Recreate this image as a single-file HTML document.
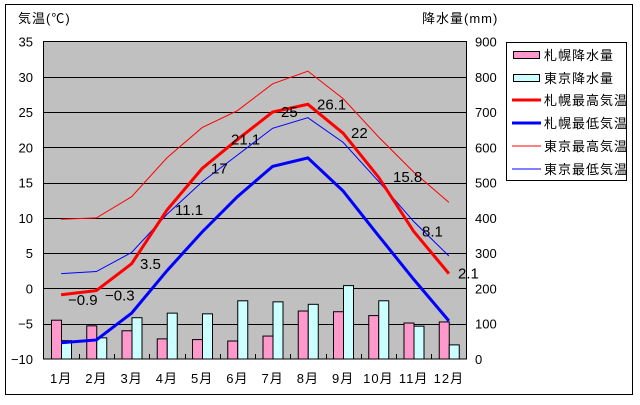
<!DOCTYPE html>
<html><head><meta charset="utf-8"><style>
body{margin:0;background:#fff;}
svg text{font-family:"Liberation Sans","Noto Sans CJK JP",sans-serif;}
</style></head><body>
<svg width="640" height="400" xmlns="http://www.w3.org/2000/svg">
<rect x="5.5" y="4.5" width="627" height="390" fill="#fff" stroke="#000"/>
<rect x="43.5" y="41.5" width="423" height="317.5" fill="#c0c0c0" stroke="#000"/>
<g id="g" stroke="#000" stroke-width="1"></g>
<g id="bars"></g>
<g id="lines" fill="none"></g>
<g id="lab" font-size="15" fill="#000"></g>
<g font-size="13" fill="#000" letter-spacing="1">
<text x="18" y="23">気温(℃)</text>
<text x="422" y="23">降水量(mm)</text>
</g>
<g id="ax" font-size="13" fill="#000"></g>
<rect x="506.5" y="42.5" width="120" height="138" fill="#fff" stroke="#000"/>
<g font-size="13" fill="#000" letter-spacing="1">
<rect x="513.5" y="51.5" width="26" height="7" fill="#ff99cc" stroke="#000"/><text x="544" y="60">札幌降水量</text>
<rect x="513.5" y="74.5" width="26" height="7" fill="#ccffff" stroke="#000"/><text x="544" y="83">東京降水量</text>
<line x1="512" y1="100" x2="541" y2="100" stroke="#f00" stroke-width="3"/><text x="544" y="105">札幌最高気温</text>
<line x1="512" y1="123" x2="541" y2="123" stroke="#00f" stroke-width="3"/><text x="544" y="128">札幌最低気温</text>
<line x1="512" y1="146" x2="541" y2="146" stroke="#f00" stroke-width="1"/><text x="544" y="151">東京最高気温</text>
<line x1="512" y1="169" x2="541" y2="169" stroke="#00f" stroke-width="1"/><text x="544" y="174">東京最低気温</text>
</g>
</svg>
<script>
var L=43.5,T=41.5,B=359,W=423,cw=W/12;
function yt(v){return T+(35-v)*(B-T)/45;}
function yp(v){return B-v*(B-T)/900;}
function cx(i){return L+cw*(i+0.5);}
var ns="http://www.w3.org/2000/svg";
function el(p,t,a,txt){var e=document.createElementNS(ns,t);for(var k in a)e.setAttribute(k,a[k]);if(txt!=null)e.textContent=txt;document.getElementById(p).appendChild(e);}
for(var v=-5;v<35;v+=5){var y=Math.round(yt(v))+0.5;el('g','line',{x1:L,x2:L+W,y1:y,y2:y});}
for(var i=1;i<12;i++){var x=Math.round(L+cw*i)+0.5;el('g','line',{x1:x,x2:x,y1:B-5,y2:B});}
var sp=[110,94,80,57,55,51,65,136,134,123,102,105];
var tp=[52,60,117,130,128,165,162,155,208,165,93,40];
for(var i=0;i<12;i++){var x0=L+cw*i+8;
el('bars','rect',{x:x0,y:yp(sp[i]),width:10,height:B-yp(sp[i]),fill:'#ff99cc',stroke:'#000'});
el('bars','rect',{x:x0+10,y:yp(tp[i]),width:10,height:B-yp(tp[i]),fill:'#ccffff',stroke:'#000'});}
function line(d,c,w){var p=d.map(function(v,i){return cx(i)+','+yt(v)}).join(' ');el('lines','polyline',{points:p,stroke:c,'stroke-width':w});}
line([9.8,10,13,18.5,22.8,25.2,29,30.8,26.9,21.5,16.5,12.2],'#f00',1);
line([2.1,2.4,5.1,10.5,15.1,18.9,22.7,24.2,20.7,15.2,9.5,4.6],'#00f',1);
var sh=[-0.9,-0.3,3.5,11.1,17,21.1,25,26.1,22,15.8,8.1,2.1];
line(sh,'#f00',3);
line([-7.7,-7.3,-3.5,2.5,8,13,17.3,18.5,13.8,7.5,1.3,-4.6],'#00f',3);
var lx=[68,105,140,175,211,231,281,317,351,393,422,458];
for(var i=0;i<12;i++)el('lab','text',{x:lx[i],y:yt(sh[i])+(i<2?10:5)},String(sh[i]).replace('-','−'));
for(var v=-10;v<=35;v+=5)el('ax','text',{x:33,y:yt(v)+5,'text-anchor':'end'},String(v).replace('-','−'));
for(var v=0;v<=900;v+=100)el('ax','text',{x:475,y:yp(v)+5},String(v));
for(var i=0;i<12;i++)el('ax','text',{x:cx(i),y:383,'text-anchor':'middle','letter-spacing':'1'},(i+1)+'月');
</script>
</body></html>
